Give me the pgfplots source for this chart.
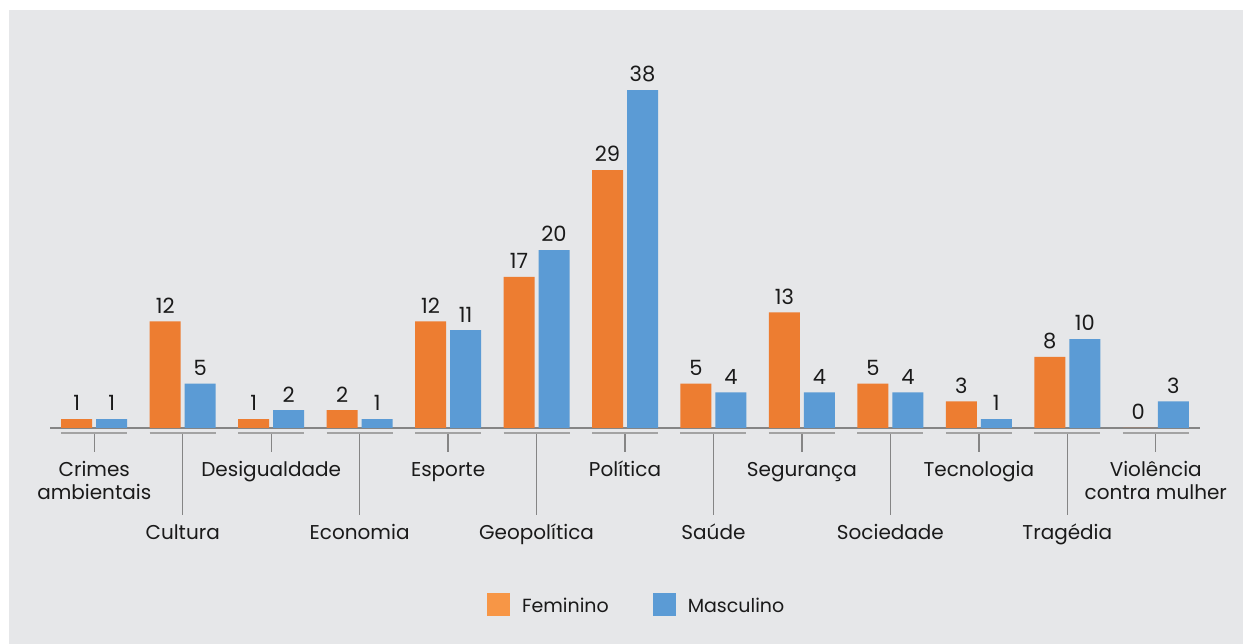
\documentclass[border=0pt]{standalone}
\usepackage{fontspec}
\setmainfont{Poppins}
\usepackage{pgfplots}
\usepackage{pgfplotstable}
\pgfplotsset{compat=1.18}
\definecolor{bg}{HTML}{E6E7E9}
\definecolor{fem}{HTML}{ED7D31}
\definecolor{masc}{HTML}{5B9BD5}
\definecolor{femleg}{HTML}{F79646}
\definecolor{axisgray}{HTML}{858585}
\definecolor{sepgray}{HTML}{A3A3A3}
\definecolor{txt}{HTML}{1A1A1A}

\pgfplotstableread{
x fem masc
0 1 1
1 12 5
2 1 2
3 2 1
4 12 11
5 17 20
6 29 38
7 5 4
8 13 4
9 5 4
10 3 1
11 8 10
12 0 3
}\data

\begin{document}
\begin{tikzpicture}[font=\fontsize{20}{23}\selectfont]
\useasboundingbox (0pt,0pt) rectangle (1243pt,644pt);
\fill[white] (0pt,0pt) rectangle (1243pt,644pt);
\fill[bg] (9pt,0pt) rectangle (1243pt,634pt);
\begin{axis}[
  at={(50pt,216pt)}, anchor=south west,
  scale only axis, width=1150pt, height=355.6pt,
  xmin=-0.5, xmax=12.5, ymin=0, ymax=40,
  axis y line=none, axis x line=bottom,
  x axis line style={draw=axisgray, line width=2pt, -},
  xtick=\empty, ytick=\empty,
  clip=false,
  ybar=4pt, bar width=31pt,
  /pgf/number format/assume math mode=true,
  nodes near coords,
  every node near coord/.append style={font=\fontsize{21}{23}\selectfont, text=txt, anchor=south, inner sep=0pt, yshift=8pt},
  legend columns=2,
  legend style={at={(0.38,-0.4977)}, anchor=west, draw=none, fill=none, inner sep=0pt, outer sep=0pt,
    font=\fontsize{19}{23}\selectfont, text=txt, column sep=12pt,
    /tikz/every even column/.append style={column sep=44pt},
    cells={anchor=base west}, nodes={inner sep=0pt}},
]
\addplot[fill=fem, draw=none, legend image code/.code={\fill[femleg] (0pt,-4pt) rectangle (23pt,19pt);}] table[x=x,y=fem]{\data};
\addplot[fill=masc, draw=none, legend image code/.code={\fill[masc] (0pt,-4pt) rectangle (23pt,19pt);}] table[x=x,y=masc]{\data};
\legend{Feminino, Masculino}

\pgfplotsinvokeforeach{0,...,12}{
  \draw[sepgray, line width=2pt] ([xshift=-33pt,yshift=-5.5pt]axis cs:#1,0) -- ([xshift=33pt,yshift=-5.5pt]axis cs:#1,0);
}
\pgfplotsinvokeforeach{0,2,...,12}{
  \draw[axisgray, line width=1.3pt] ([yshift=-6.5pt]axis cs:#1,0) -- ([yshift=-24pt]axis cs:#1,0);
}
\pgfplotsinvokeforeach{1,3,...,11}{
  \draw[axisgray, line width=1.3pt] ([yshift=-6.5pt]axis cs:#1,0) -- ([yshift=-87pt]axis cs:#1,0);
}
\begin{scope}[every node/.style={anchor=base, inner sep=0pt, text=txt}]
\node at ([yshift=-49pt]axis cs:0,0) {\begin{tabular}[t]{@{}c@{}}Crimes\\ambientais\end{tabular}};
\node at ([yshift=-49pt]axis cs:2,0) {Desigualdade};
\node at ([yshift=-49pt]axis cs:4,0) {Esporte};
\node at ([yshift=-49pt]axis cs:6,0) {Política};
\node at ([yshift=-49pt]axis cs:8,0) {Segurança};
\node at ([yshift=-49pt]axis cs:10,0) {Tecnologia};
\node at ([yshift=-49pt]axis cs:12,0) {\begin{tabular}[t]{@{}c@{}}Violência\\contra mulher\end{tabular}};
\node at ([yshift=-112pt]axis cs:1,0) {Cultura};
\node at ([yshift=-112pt]axis cs:3,0) {Economia};
\node at ([yshift=-112pt]axis cs:5,0) {Geopolítica};
\node at ([yshift=-112pt]axis cs:7,0) {Saúde};
\node at ([yshift=-112pt]axis cs:9,0) {Sociedade};
\node at ([yshift=-112pt]axis cs:11,0) {Tragédia};
\end{scope}
\end{axis}
\end{tikzpicture}
\end{document}
